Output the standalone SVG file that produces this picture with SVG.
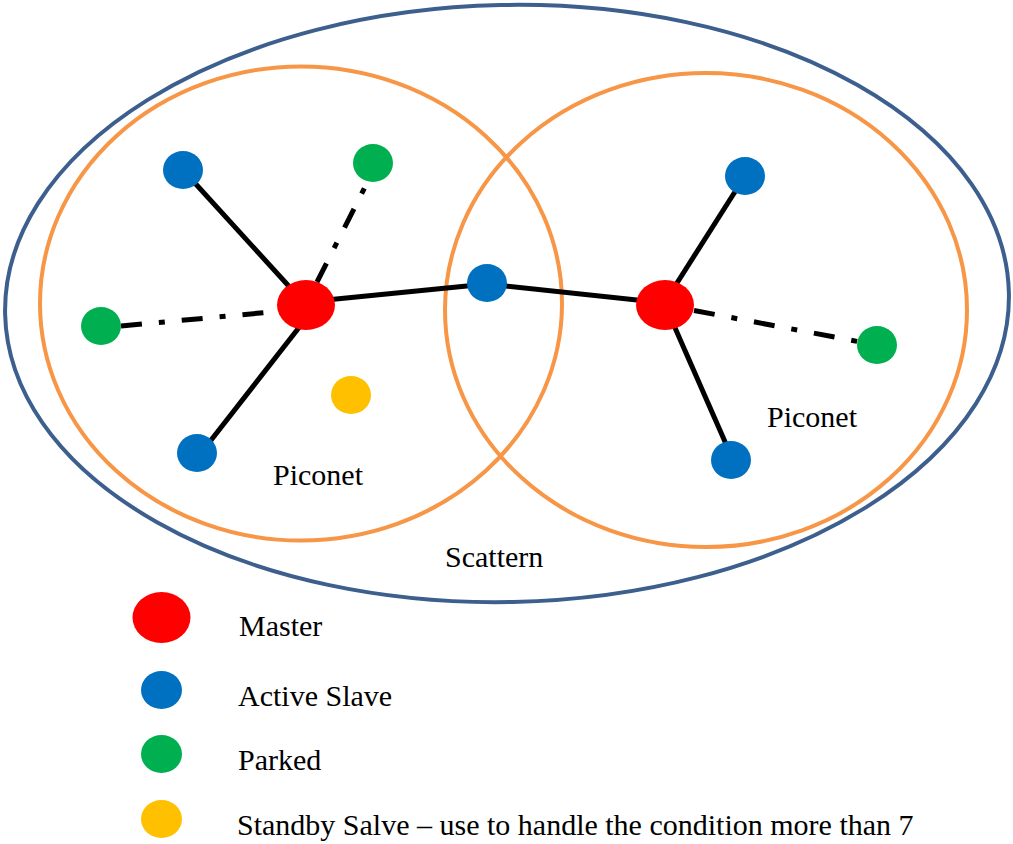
<svg xmlns="http://www.w3.org/2000/svg" width="1013" height="844" viewBox="0 0 1013 844">
  <style>
    .scatter { fill: none; stroke: #3D5F8E; stroke-width: 4; }
    .piconet { fill: none; stroke: #F79646; stroke-width: 4; }
    .link { stroke: #000; stroke-width: 5; fill: none; }
    .park { stroke: #000; stroke-width: 5; fill: none; stroke-dasharray: 21 17 6 17; }
    .master { fill: #FF0000; }
    .active { fill: #0070C0; }
    .parked { fill: #00B050; }
    .standby { fill: #FFC000; }
    text { font-family: "Liberation Serif", "Times New Roman", serif; font-size: 30px; fill: #000; }
  </style>
  <rect width="1013" height="844" fill="#fff"/>

  <!-- scatternet and piconet boundaries -->
  <g id="scatternet">
    <ellipse class="scatter" cx="507" cy="303.5" rx="502" ry="298.5" transform="rotate(-1.2 507 303.5)"/>
    <text x="445" y="567" font-family="Liberation Serif, serif">Scattern</text>
  </g>
  <g id="piconet-left">
    <ellipse class="piconet" cx="301" cy="303.5" rx="261" ry="237"/>
    <text x="273" y="485" font-family="Liberation Serif, serif">Piconet</text>
  </g>
  <g id="piconet-right">
    <ellipse class="piconet" cx="706" cy="310" rx="261" ry="237"/>
    <text x="767" y="427" font-family="Liberation Serif, serif">Piconet</text>
  </g>

  <!-- links between devices -->
  <g id="connectors">
    <line class="link" x1="183" y1="170" x2="306" y2="305"/>
    <line class="link" x1="306" y1="302" x2="487" y2="284"/>
    <line class="link" x1="308" y1="316" x2="201" y2="453"/>
    <line class="park" x1="317" y1="282" x2="367" y2="183"/>
    <line class="park" x1="121" y1="326" x2="282" y2="311"/>
    <line class="link" x1="487" y1="284" x2="665" y2="303"/>
    <line class="link" x1="663" y1="305" x2="745" y2="176"/>
    <line class="link" x1="665" y1="305" x2="733" y2="460"/>
    <line class="park" x1="694" y1="310.5" x2="858" y2="341.5"/>
  </g>

  <!-- devices -->
  <g id="master-left"><ellipse class="master" cx="306" cy="305" rx="29" ry="25"/></g>
  <g id="master-right"><ellipse class="master" cx="665" cy="305" rx="29" ry="25"/></g>
  <g id="slave-bridge"><ellipse class="active" cx="487" cy="283" rx="20" ry="19"/></g>
  <g id="slave-left-top"><ellipse class="active" cx="183" cy="170" rx="20" ry="19"/></g>
  <g id="slave-left-bottom"><ellipse class="active" cx="197" cy="453" rx="20" ry="19"/></g>
  <g id="slave-right-top"><ellipse class="active" cx="745" cy="176" rx="20" ry="19"/></g>
  <g id="slave-right-bottom"><ellipse class="active" cx="731" cy="460" rx="20" ry="19"/></g>
  <g id="parked-left-top"><ellipse class="parked" cx="373" cy="163" rx="20" ry="19"/></g>
  <g id="parked-left"><ellipse class="parked" cx="101" cy="326" rx="20" ry="19"/></g>
  <g id="parked-right"><ellipse class="parked" cx="877" cy="345" rx="20" ry="19"/></g>
  <g id="standby-left"><ellipse class="standby" cx="351" cy="395" rx="20" ry="19"/></g>

  <!-- legend -->
  <g id="legend-master">
    <ellipse class="master" cx="161.5" cy="617.5" rx="29" ry="25.5"/>
    <text x="239" y="636" font-family="Liberation Serif, serif">Master</text>
  </g>
  <g id="legend-active">
    <ellipse class="active" cx="161.5" cy="690" rx="20.5" ry="19"/>
    <text x="238" y="706" font-family="Liberation Serif, serif">Active Slave</text>
  </g>
  <g id="legend-parked">
    <ellipse class="parked" cx="161.5" cy="754" rx="20.5" ry="19"/>
    <text x="238" y="770" font-family="Liberation Serif, serif">Parked</text>
  </g>
  <g id="legend-standby">
    <ellipse class="standby" cx="161.5" cy="819" rx="20.5" ry="19"/>
    <text x="237" y="835" font-family="Liberation Serif, serif">Standby Salve – use to handle the condition more than 7</text>
  </g>
</svg>
